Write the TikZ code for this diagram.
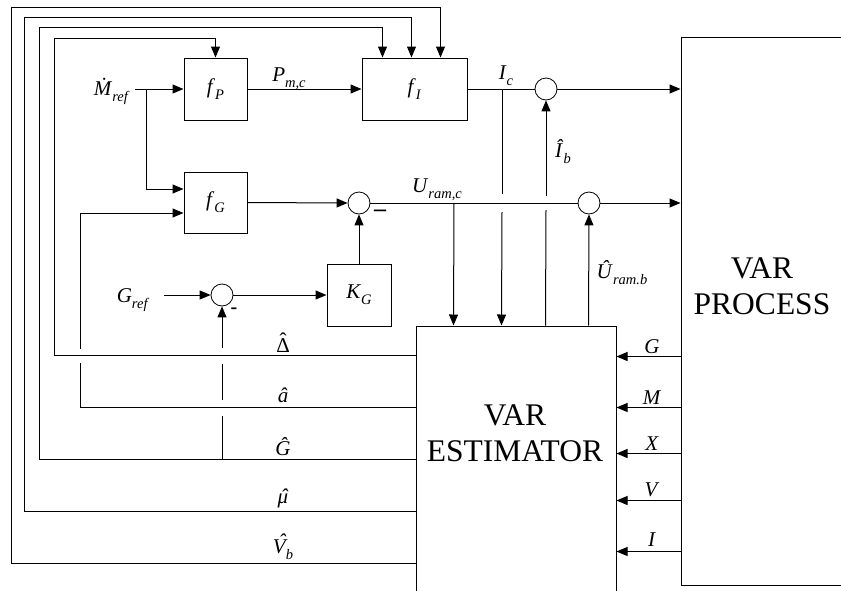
\documentclass[tikz,border=0pt]{standalone}
\usepackage{fontspec}
\setmainfont{Liberation Serif}
\usetikzlibrary{arrows.meta}
\newcommand\vsb[2]{\textit{#1}\raisebox{-0.3em}{\fontsize{14.5}{15}\selectfont\textit{#2}}}
\newcommand\hatc[3]{\leavevmode\setbox0\hbox{#3}\rlap{\hbox to\wd0{\hss\kern#2\raisebox{#1}{ˆ}\hss}}\box0}
\begin{document}
\begin{tikzpicture}[x=1pt,y=-1pt,line width=1pt,
  blk/.style={draw,rectangle,inner sep=0pt,font=\fontsize{21}{24}\selectfont},
  sumc/.style={draw,circle,minimum size=22pt,inner sep=0pt,line width=0.8pt},
  arr/.style={-{Triangle[length=11pt,width=9pt]}},
  lab/.style={font=\fontsize{21}{24}\selectfont,inner sep=0pt},
  big/.style={font=\fontsize{31.5}{36}\selectfont,align=center,inner sep=0pt}]
\useasboundingbox (0,0) rectangle (841,590);

% blocks
\node[blk,minimum width=63pt,minimum height=62pt] (fP) at (215.5,89) {\vsb{f}{P}};
\node[blk,minimum width=105pt,minimum height=62pt] (fI) at (414.5,89) {\vsb{f}{I}};
\node[blk,minimum width=63pt,minimum height=61pt] (fG) at (215.5,202.5) {\vsb{f}{G}};
\node[blk,minimum width=64pt,minimum height=62pt] (KG) at (359,295) {\vsb{K}{G}};
\node[blk,minimum width=200pt,minimum height=300pt] (est) at (516,476) {};
\node[blk,minimum width=200pt,minimum height=548pt] (proc) at (781,311) {};
\node[big] (estt) at (515,433) {VAR\\ESTIMATOR};
\node[big] (proct) at (762,286) {VAR\\PROCESS};

% summing junctions
\node[sumc] (sumI) at (546,89) {};
\node[sumc] (sumUb) at (589,203) {};
\node[sumc] (sumU) at (359,203) {};
\node[sumc] (sumG) at (222,295) {};

% free ends / branch points
\coordinate (mr) at (135,89);
\coordinate (br1) at (146,89);
\coordinate (gr) at (164,295);
\coordinate (brI) at (502,89);
\coordinate (brU) at (454,203);

% forward path
\draw[arr] (mr) -- (fP.west);
\draw[arr] (br1) |- ([yshift=13.5pt]fG.west);
\draw[arr] (fP.east) -- (fI.west);
\draw (fI.east) -- (sumI.west);
\draw[arr] (sumI.east) -- (sumI.east -| proc.west);
\draw (brI) -- (502,194);
\draw[arr] (502,212) -- ([xshift=86pt]est.north west);
\draw ([xshift=130pt]est.north west) -- (546,210);
\draw[arr] (546,196) -- (sumI.south);
\draw[arr] (fG.east) -- (sumU.west);
\draw (sumU.east) -- (sumUb.west);
\draw[arr] (sumUb.east) -- (sumUb.east -| proc.west);
\draw[arr] (brU) -- ([xshift=38pt]est.north west);
\draw[arr] ([xshift=173pt]est.north west) -- (sumUb.south);
\draw[arr] (KG.north) -- (sumU.south);
\draw[arr] (gr) -- (sumG.west);
\draw[arr] (sumG.east) -- (KG.west);

% feedback loops
\draw[arr] ([yshift=-30pt]est.north west) -| (54,38) -| (fP.north);
\draw ([yshift=-82pt]est.north west) -| (80,363);
\draw[arr] (80,349) |- ([yshift=-10.5pt]fG.west);
\draw[arr] ([yshift=-134pt]est.north west) -| (39,27) -| ([xshift=21pt]fI.north west);
\draw[arr] ([yshift=-186pt]est.north west) -| (24,17) -| ([xshift=50pt]fI.north west);
\draw[arr] ([yshift=-238pt]est.north west) -| (11,7) -| ([xshift=79pt]fI.north west);
\draw (222,460) -- (222,416);
\draw (222,400) -- (222,364);
\draw[arr] (222,348) -- (sumG.south);

% process outputs
\foreach \dy/\nm in {31/G,82/M,128/X,175/V,226/I}{
  \coordinate (pin\nm) at ([yshift=-\dy pt]est.north east);
  \draw[arr] (proc.west |- pin\nm) -- (pin\nm);
}

% labels
\node[lab,anchor=base east] (lMref) at (130,95) {\vsb{\.{M}}{ref}};
\node[lab,anchor=base] (lPmc) at (289,81) {\vsb{P}{m,c}};
\node[lab,anchor=base] (lIc) at (506,79) {\vsb{I}{c}};
\node[lab,anchor=base] (lIb) at (563,157) {\vsb{\^{I}}{b}};
\node[lab,anchor=base] (lUc) at (437,192) {\vsb{U}{ram,c}};
\node[lab,anchor=base] (lUb) at (622,278) {\vsb{\^{U}}{ram.b}};
\node[lab,anchor=base] (lGref) at (133,302) {\vsb{G}{ref}};
\node[lab,anchor=base] (lD) at (283,352) {\hatc{0.2em}{0pt}{Δ}};
\node[lab,anchor=base] (la) at (283,402) {\textit{\^{a}}};
\node[lab,anchor=base] (lG) at (283,455) {\textit{\^{G}}};
\node[lab,anchor=base] (lmu) at (283,503) {\textit{\hatc{0pt}{0.1em}{μ}}};
\node[lab,anchor=base] (lV) at (283,553) {\textit{\hatc{0.2em}{0.25em}{V}}\raisebox{-0.3em}{\fontsize{14.5}{15}\selectfont\textit{b}}};
\node[lab,anchor=base] (pG) at (652,353) {\textit{G}};
\node[lab,anchor=base] (pM) at (652,404) {\textit{M}};
\node[lab,anchor=base] (pX) at (652,450) {\textit{X}};
\node[lab,anchor=base] (pV) at (652,496) {\textit{V}};
\node[lab,anchor=base] (pI) at (652,546) {\textit{I}};
\node[lab,font=\fontsize{24}{26}\bfseries] (mU) at (380,213) {–};
\node[lab,font=\fontsize{20}{22}\bfseries] (mG) at (234,311) {-};
\end{tikzpicture}
\end{document}
